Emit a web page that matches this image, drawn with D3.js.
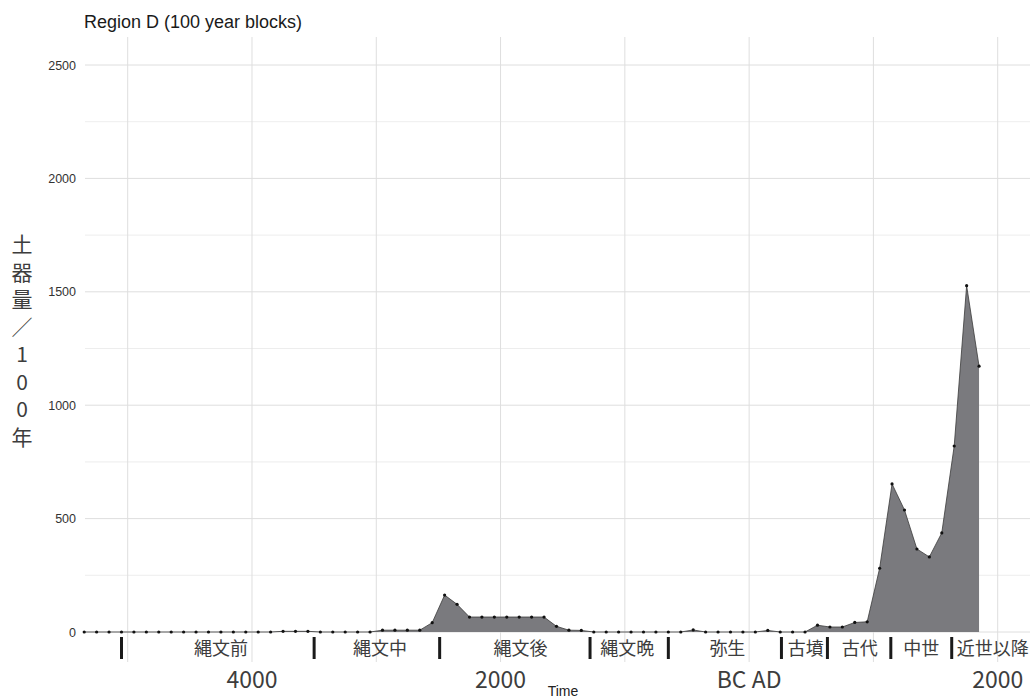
<!DOCTYPE html>
<html>
<head>
<meta charset="utf-8">
<script src="https://cdn.jsdelivr.net/npm/d3@7"></script>
<style>
  body { margin: 0; background: #fff; }
  svg { display: block; }
</style>
</head>
<body>
<div id="chart"></div>
<script>
// 100 year blocks, mid-year of each block (negative = BC)
const years = [-5350, -5250, -5150, -5050, -4950, -4850, -4750, -4650, -4550, -4450,
  -4350, -4250, -4150, -4050, -3950, -3850, -3750, -3650, -3550, -3450,
  -3350, -3250, -3150, -3050, -2950, -2850, -2750, -2650, -2550, -2450,
  -2350, -2250, -2150, -2050, -1950, -1850, -1750, -1650, -1550, -1450,
  -1350, -1250, -1150, -1050, -950, -850, -750, -650, -550, -450,
  -350, -250, -150, -50, 50, 150, 250, 350, 450, 550,
  650, 750, 850, 950, 1050, 1150, 1250, 1350, 1450, 1550,
  1650, 1750, 1850];
const counts = [0, 0, 0, 0, 0, 0, 0, 0, 0, 0,
  0, 0, 0, 0, 0, 0, 3, 3, 3, 0,
  0, 0, 0, 0, 8, 8, 8, 8, 41, 163,
  122, 66, 66, 66, 66, 66, 66, 66, 25, 8,
  7, 0, 0, 0, 0, 0, 0, 0, 0, 9,
  0, 0, 0, 0, 0, 7, 0, 0, 0, 30,
  22, 22, 42, 45, 281, 653, 538, 366, 331, 437,
  820, 1527, 1172];

const yTicks = [0, 500, 1000, 1500, 2000, 2500];
const yMinor = [250, 750, 1250, 1750, 2250];
const xGrid = [-5000, -4000, -3000, -2000, -1000, 0, 1000, 2000];

// period boundaries and names (drawn inside the panel below zero)
const periodBreaks = [-5050, -3500, -2490, -1280, -650, 260, 630, 1140, 1630];
const periodNames = ['縄文前', '縄文中', '縄文後', '縄文晩', '弥生', '古墳', '古代', '中世', '近世以降'];
const periodLabelYears = [-4250, -2970, -1840, -980, -175, 455, 890, 1385, 1960];

const eraLabels = ['4000', '2000', 'BC AD', '2000'];
const eraYears = [-4000, -2000, 0, 2000];

const yTitleChars = ['土', '器', '量', '／', '1', '0', '0', '年'];

const width = 1030, height = 698;
const panel = {left: 85, right: 1030, top: 37, bottom: 662};
const jpFont = '"Noto Sans CJK JP", "Noto Sans", sans-serif';
const latinFont = '"Liberation Sans", Arial, sans-serif';

const svg = d3.select('#chart').append('svg')
    .attr('width', width)
    .attr('height', height);

const x = d3.scaleLinear().domain([-5000, 2000]).range([127.7, 997.7]);
const y = d3.scaleLinear().domain([0, 2500]).range([632, 65]);

//grid lines
svg.append('g').selectAll('line').data(yMinor).join('line')
    .attr('x1', panel.left).attr('x2', panel.right)
    .attr('y1', d => y(d)).attr('y2', d => y(d))
    .attr('stroke', '#e8e8e8').attr('stroke-width', 0.8);

svg.append('g').selectAll('line').data(yTicks).join('line')
    .attr('x1', panel.left).attr('x2', panel.right)
    .attr('y1', d => y(d)).attr('y2', d => y(d))
    .attr('stroke', '#dedede').attr('stroke-width', 1);

svg.append('g').selectAll('line').data(xGrid).join('line')
    .attr('x1', d => x(d)).attr('x2', d => x(d))
    .attr('y1', panel.top).attr('y2', panel.bottom)
    .attr('stroke', '#dedede').attr('stroke-width', 1);

// y axis labels
const yAxis = svg.append('g')
    .attr('transform', `translate(${panel.left},0)`)
    .call(d3.axisLeft(y).tickValues(yTicks).tickFormat(d3.format('d')).tickSize(0).tickPadding(9));
yAxis.select('.domain').remove();
yAxis.selectAll('text')
    .style('font-family', latinFont)
    .style('font-size', '12.5px')
    .attr('fill', '#333');

const data = years.map((yr, i) => ({year: yr, v: counts[i]}));

const area = d3.area()
    .x(d => x(d.year))
    .y0(y(0))
    .y1(d => y(d.v));

svg.append('path')
    .datum(data)
    .attr('d', area)
    .attr('fill', '#7a7a7e');

const line = d3.line()
    .x(d => x(d.year))
    .y(d => y(d.v));

svg.append('path')
    .datum(data)
    .attr('d', line)
    .attr('fill', 'none')
    .attr('stroke', '#3a3a3a')
    .attr('stroke-width', 0.8);

svg.append('g').selectAll('circle').data(data).join('circle')
    .attr('cx', d => x(d.year))
    .attr('cy', d => y(d.v))
    .attr('r', 1.6)
    .attr('fill', '#111');

// period markers
svg.append('g').selectAll('line').data(periodBreaks).join('line')
    .attr('x1', d => x(d)).attr('x2', d => x(d))
    .attr('y1', 637).attr('y2', 659)
    .attr('stroke', '#1a1a1a')
    .attr('stroke-width', 3);

svg.append('g').selectAll('text').data(periodNames).join('text')
    .attr('x', (d, i) => x(periodLabelYears[i]))
    .attr('y', 655)
    .attr('text-anchor', 'middle')
    .style('font-family', jpFont)
    .style('font-size', '18px')
    .attr('fill', '#3d3d3d')
    .text(d => d);

svg.append('g').selectAll('text').data(eraLabels).join('text')
    .attr('x', (d, i) => x(eraYears[i]))
    .attr('y', 688)
    .attr('text-anchor', 'middle')
    .style('font-family', jpFont)
    .style('font-size', '23px')
    .attr('fill', '#3d3d3d')
    .text(d => d);

// axis titles
svg.append('text')
    .attr('x', 563)
    .attr('y', 696)
    .attr('text-anchor', 'middle')
    .style('font-family', latinFont)
    .style('font-size', '14px')
    .attr('fill', '#222')
    .text('Time');

svg.append('g').selectAll('text').data(yTitleChars).join('text')
    .attr('x', 22)
    .attr('y', (d, i) => 243 + i * 27.5)
    .attr('text-anchor', 'middle')
    .attr('dominant-baseline', 'central')
    .style('font-family', jpFont)
    .style('font-size', '21px')
    .attr('fill', '#3d3d3d')
    .text(d => d);

svg.append('text')
    .attr('x', 84)
    .attr('y', 28)
    .style('font-family', latinFont)
    .style('font-size', '18px')
    .attr('fill', '#1a1a1a')
    .text('Region D (100 year blocks)');
</script>
</body>
</html>
